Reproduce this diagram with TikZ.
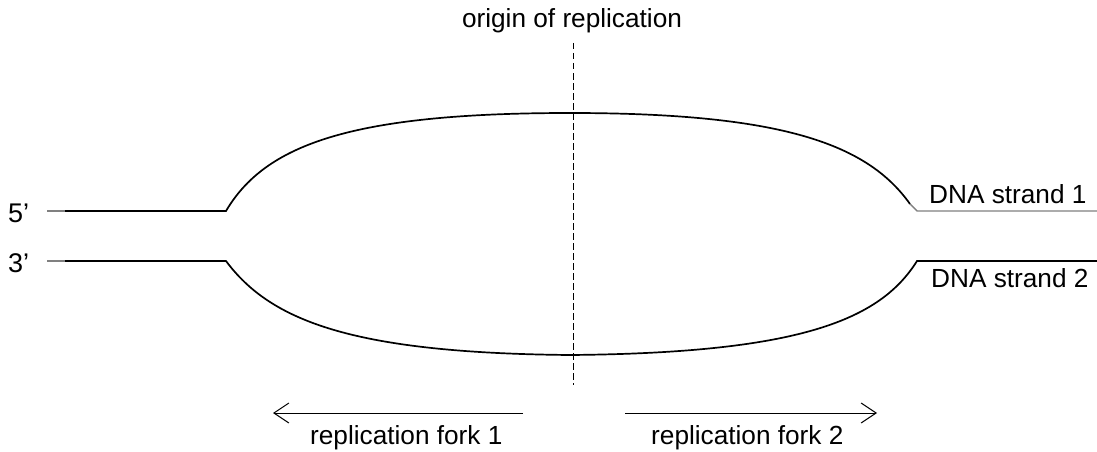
\documentclass[tikz,border=0pt]{standalone}
\usepackage{fontspec}
\setmainfont{Liberation Sans}
\usetikzlibrary{arrows.meta}
\begin{document}
\begin{tikzpicture}[x=1pt,y=-1pt,
  lbl/.style={inner sep=0pt,font=\fontsize{26.2}{30}\selectfont},
  endlbl/.style={inner sep=0pt,font=\fontsize{27}{30}\selectfont},
  strand/.style={line width=1.7pt,black},
  stub/.style={line width=1.7pt,gray},
  forkarrow/.style={line width=1pt,-{Straight Barb[length=15pt,width=20pt,line width=1pt]}},
  originline/.style={line width=1pt,dash pattern=on 6.5pt off 3.5pt}]
\useasboundingbox (0,0) rectangle (1097,452);

% labels
\node[lbl,anchor=base] (origin) at (572,28) {origin of replication};
\node[endlbl,anchor=base west] (five) at (8,222) {5’};
\node[endlbl,anchor=base west] (three) at (8,272) {3’};
\node[lbl,anchor=base west] (s1) at (929,203) {DNA strand 1};
\node[lbl,anchor=base west] (s2) at (931,287) {DNA strand 2};
\node[lbl,anchor=base west] (f1) at (310,444) {replication fork 1};
\node[lbl,anchor=base west] (f2) at (651,444) {replication fork 2};

% key points of the replication bubble
\coordinate (a1) at (47,211);
\coordinate (b1) at (65,211);
\coordinate (c1) at (226,211);
\coordinate (top) at (570,113);
\coordinate (d1) at (910,204);
\coordinate (e1) at (917,211);
\coordinate (g1) at (1097,211);

\coordinate (a2) at (47,261);
\coordinate (b2) at (65,261);
\coordinate (c2) at (226,261);
\coordinate (bot) at (570,355);
\coordinate (e2) at (917,261);
\coordinate (g2) at (1097,261);

% strand ends (5' and 3')
\draw[stub] (a1) -- (b1);
\draw[stub] (a2) -- (b2);

% upper strand
\draw[strand] (b1) -- (c1)
  .. controls (265,145) and (350,113) .. (top)
  .. controls (785,113) and (868,145) .. (d1);
\draw[stub,line width=1.4pt] (d1) -- (e1) -- (g1);

% lower strand
\draw[strand] (b2) -- (c2)
  .. controls (270,320) and (350,353) .. (bot)
  .. controls (800,353) and (880,320) .. (e2) -- (g2);

% origin of replication
\coordinate (o1) at (573,43);
\coordinate (o2) at (573,385);
\draw[originline] (o1) -- (o2);

% fork directions
\coordinate (p1) at (523,413);
\coordinate (q1) at (273,413);
\coordinate (p2) at (625,413);
\coordinate (q2) at (877,413);
\draw[forkarrow] (p1) -- (q1);
\draw[forkarrow] (p2) -- (q2);
\end{tikzpicture}
\end{document}
